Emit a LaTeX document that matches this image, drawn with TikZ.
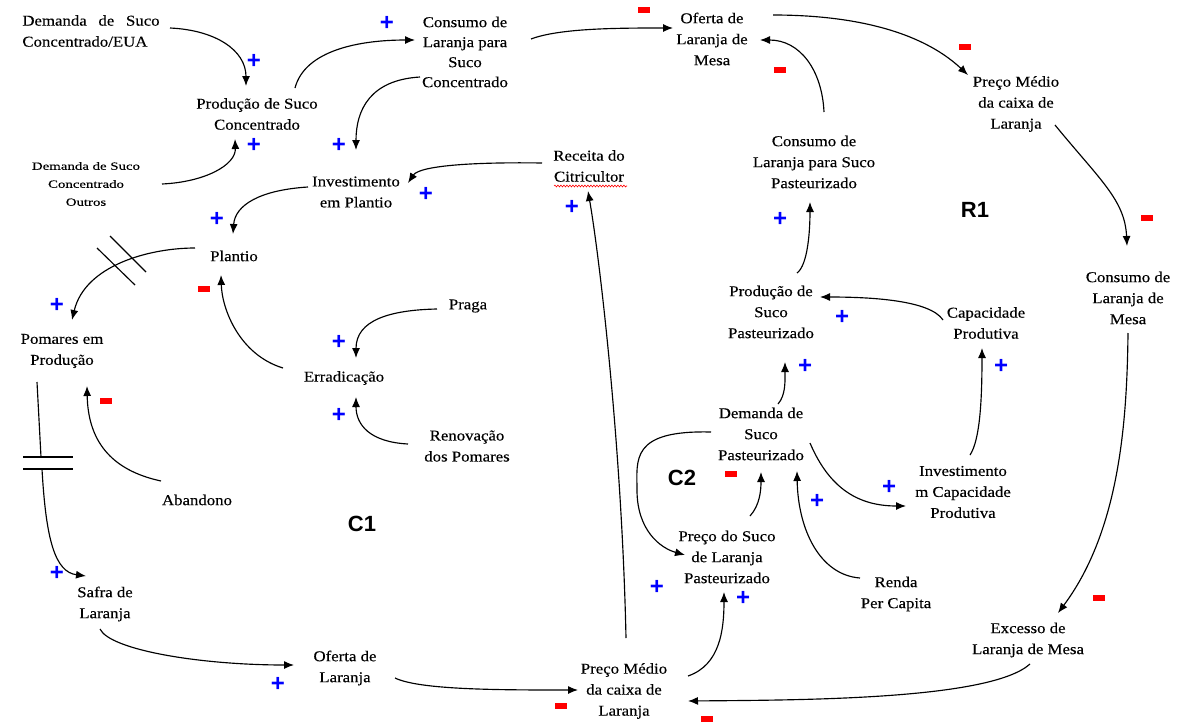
\documentclass[tikz,border=0pt]{standalone}
\usepackage{fontspec}
\setmainfont{Liberation Serif}[FakeStretch=1.12,FakeBold=0.3]
\setsansfont{Liberation Sans}
\newfontfamily\outfont{Liberation Serif}[FakeStretch=1.35,FakeBold=0.3]
\usetikzlibrary{arrows.meta,decorations.pathmorphing}
\tikzset{
  txt/.style={align=center, inner sep=0pt, font=\fontsize{15}{21}\selectfont},
  arr/.style={-{Latex[length=10pt,width=8pt]}, line width=1.15pt},
  valve/.style={line width=1.15pt},
  plussign/.style={text=blue, inner sep=0pt, font=\fontsize{24}{24}\sffamily\bfseries},
  minussign/.style={fill=red, draw=none, inner sep=0pt, minimum width=12pt, minimum height=6pt},
  looplabel/.style={inner sep=0pt, font=\fontsize{22}{22}\sffamily\bfseries}
}
\begin{document}
\begin{tikzpicture}[x=1pt,y=-1pt]
\useasboundingbox (0,0) rectangle (1186,726);
\fill[white] (0,0) rectangle (1186,726);

% nodes
\node[txt, align=left] (demEUA) at (91,31) {Demanda\hspace{0.5em} de\hspace{0.5em} Suco\\Concentrado/EUA};
\node[txt] (prodConc) at (257,114) {Produção de Suco\\Concentrado};
\node[txt, font=\fontsize{15}{20}\selectfont] (consConc) at (465,52) {Consumo de\\Laranja para\\Suco\\Concentrado};
\node[txt] (ofMesa) at (712,39) {Oferta de\\Laranja de\\Mesa};
\node[txt] (precoTop) at (1016,104) {Preço Médio\\da caixa de\\Laranja};
\node[txt, font=\outfont\fontsize{11}{18}\selectfont] (demOut) at (86,184) {Demanda de Suco\\Concentrado\\Outros};
\node[txt] (invPlant) at (356,192) {Investimento\\em Plantio};
\node[txt] (receita) at (589,166) {Receita do\\Citricultor};
\node[txt] (consPast) at (814,162) {Consumo de\\Laranja para Suco\\Pasteurizado};
\node[txt] (plantio) at (234,256) {Plantio};
\node[txt] (consMesa) at (1128,298) {Consumo de\\Laranja de\\Mesa};
\node[txt] (prodPast) at (771,312) {Produção de\\Suco\\Pasteurizado};
\node[txt] (capProd) at (986,323) {Capacidade\\Produtiva};
\node[txt] (praga) at (468,306) {Praga};
\node[txt] (pomares) at (62,351) {Pomares em\\Produção};
\node[txt] (errad) at (344,378) {Erradicação};
\node[txt] (demPast) at (761,434) {Demanda de\\Suco\\Pasteurizado};
\node[txt] (renov) at (467,446) {Renovação\\dos Pomares};
\node[txt] (invCap) at (963,492) {Investimento\\m Capacidade\\Produtiva};
\node[txt] (abandono) at (197,500) {Abandono};
\node[txt] (precoSuco) at (727,557) {Preço do Suco\\de Laranja\\Pasteurizado};
\node[txt] (renda) at (896,594) {Renda\\Per Capita};
\node[txt] (safra) at (105,604) {Safra de\\Laranja};
\node[txt] (excesso) at (1028,640) {Excesso de\\Laranja de Mesa};
\node[txt] (ofLar) at (345,668) {Oferta de\\Laranja};
\node[txt] (precoBot) at (624,691) {Preço Médio\\da caixa de\\Laranja};

% loop labels
\node[looplabel] (c1) at (362,524) {C1};
\node[looplabel] (c2) at (682,478) {C2};
\node[looplabel] (r1) at (975,210) {R1};

% spell-check underline
\draw[red, line width=0.6pt, decorate, decoration={snake, amplitude=0.9pt, segment length=3pt}]
  ([shift={(-35,20)}]receita.center) -- ([shift={(38,20)}]receita.center);

% connectors
\draw[arr] ([shift={(79,-3)}]demEUA.center) .. controls (215,30) and (246,50) .. ([shift={(-11,-28)}]prodConc.center);
\draw[arr] ([shift={(76,0)}]demOut.center) .. controls (205,182) and (236,165) .. ([shift={(-22,25)}]prodConc.center);
\draw[arr] ([shift={(38,-26)}]prodConc.center) .. controls (305,50) and (360,40) .. ([shift={(-50,-12)}]consConc.center);
\draw[arr] ([shift={(-45,25)}]consConc.center) .. controls (370,80) and (356,110) .. ([shift={(0,-42)}]invPlant.center);
\draw[arr] ([shift={(66,-13)}]consConc.center) .. controls (560,28) and (620,28) .. ([shift={(-39,-11)}]ofMesa.center);
\draw[arr] ([shift={(-47,-3)}]receita.center) .. controls (480,162) and (420,165) .. ([shift={(52,-9)}]invPlant.center);
\draw[arr] ([shift={(-48,-5)}]invPlant.center) .. controls (260,190) and (235,205) .. ([shift={(-1,-22)}]plantio.center);
\draw[arr] ([shift={(-39,-8)}]plantio.center) .. controls (150,248) and (85,265) .. ([shift={(10,-31)}]pomares.center);
\draw[arr] ([shift={(-61,-10)}]errad.center) .. controls (240,355) and (222,310) .. ([shift={(-13,19)}]plantio.center);
\draw[arr] ([shift={(-31,3)}]praga.center) .. controls (390,310) and (356,320) .. ([shift={(12,-20)}]errad.center);
\draw[arr] ([shift={(-59,-2)}]renov.center) .. controls (370,442) and (356,425) .. ([shift={(12,19)}]errad.center);
\draw[arr] ([shift={(-36,-19)}]abandono.center) .. controls (110,470) and (88,440) .. ([shift={(25,35)}]pomares.center);
\coordinate (v2a) at (41,457);
\coordinate (v2b) at (42,469);
\draw[arr] ([shift={(-25,31)}]pomares.center) -- (v2a) (v2b) .. controls (46,540) and (55,572) .. ([shift={(-19,-28)}]safra.center);
\draw[arr] ([shift={(-5,25)}]safra.center) .. controls (110,650) and (200,665) .. ([shift={(-51,-3)}]ofLar.center);
\draw[arr] ([shift={(50,10)}]ofLar.center) .. controls (420,690) and (500,690) .. ([shift={(-46,-1)}]precoBot.center);
\draw[arr] ([shift={(2,-53)}]precoBot.center) .. controls (622,450) and (600,260) .. ([shift={(-1,25)}]receita.center);
\draw[arr] ([shift={(64,-15)}]precoBot.center) .. controls (720,665) and (724,630) .. ([shift={(-3,35)}]precoSuco.center);
\draw[arr] ([shift={(-50,-2)}]demPast.center) .. controls (630,430) and (637,460) .. (637,490) .. controls (637,530) and (660,548) .. ([shift={(-42,-2)}]precoSuco.center);
\draw[arr] ([shift={(23,-41)}]precoSuco.center) .. controls (760,505) and (761,490) .. ([shift={(0,38)}]demPast.center);
\draw[arr] ([shift={(-36,-16)}]renda.center) .. controls (820,575) and (798,530) .. ([shift={(36,37)}]demPast.center);
\draw[arr] ([shift={(49,9)}]demPast.center) .. controls (830,490) and (860,506) .. ([shift={(-57,14)}]invCap.center);
\draw[arr] ([shift={(17,-30)}]demPast.center) .. controls (786,395) and (785,380) .. ([shift={(14,50)}]prodPast.center);
\draw[arr] ([shift={(7,-37)}]invCap.center) .. controls (980,440) and (982,400) .. ([shift={(-4,25)}]capProd.center);
\draw[arr] ([shift={(-43,-3)}]capProd.center) .. controls (930,300) and (870,297) .. ([shift={(49,-15)}]prodPast.center);
\draw[arr] ([shift={(26,-39)}]prodPast.center) .. controls (808,265) and (810,230) .. ([shift={(-4,40)}]consPast.center);
\draw[arr] ([shift={(10,-50)}]consPast.center) .. controls (822,70) and (800,40) .. ([shift={(48,1)}]ofMesa.center);
\draw[arr] ([shift={(61,-24)}]ofMesa.center) .. controls (850,15) and (920,30) .. ([shift={(-48,-29)}]precoTop.center);
\draw[arr] ([shift={(39,21)}]precoTop.center) .. controls (1100,180) and (1125,200) .. ([shift={(-1,-52)}]consMesa.center);
\draw[arr] ([shift={(0,35)}]consMesa.center) .. controls (1127,420) and (1120,530) .. ([shift={(30,-27)}]excesso.center);
\draw[arr] ([shift={(2,24)}]excesso.center) .. controls (990,700) and (800,700) .. ([shift={(64,10)}]precoBot.center);

% valves
\draw[valve] (97,248) -- (135,285);
\draw[valve] (110,236) -- (146,272);
\draw[valve] (23,457) -- (73,457);
\draw[valve] (23,469) -- (73,469);

% polarity signs
\foreach \p/\q in {254/61, 254/145, 387/23, 339/145, 426/194, 217/219, 57/305, 339/342, 339/415, 57/573, 278/684, 572/207, 780/219, 842/317, 805/366, 1001/366, 889/487, 817/501, 657/587, 743/598}
  \node[plussign] at (\p,\q) {+};
\foreach \p/\q in {644/10, 780/70, 965/47, 1147/218, 204/289, 106/401, 731/474, 1099/598, 561/706, 707/719}
  \node[minussign] at (\p,\q) {};
\end{tikzpicture}
\end{document}
